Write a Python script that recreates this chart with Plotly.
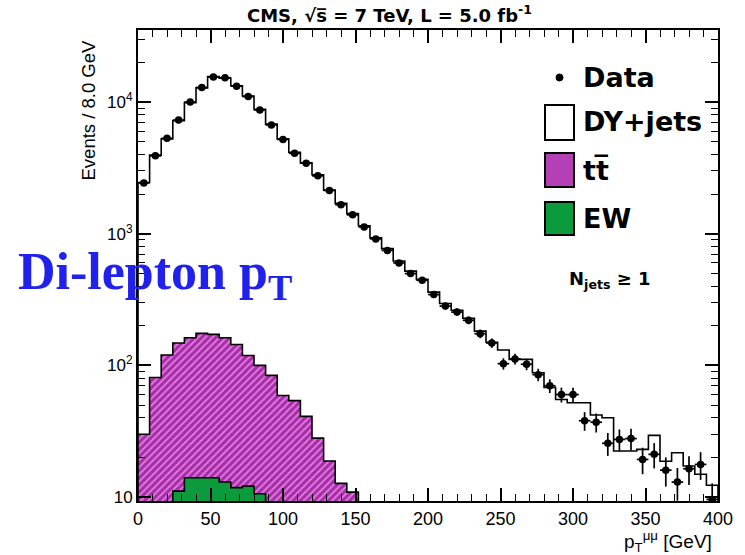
import numpy as np
import plotly.graph_objects as go

# ---------------- data ----------------
bin_width = 8
bin_lo = list(range(0, 400, 8))  # 50 bins, 0..400 GeV

data_counts = [
    2430, 3900, 5300, 7300, 10000, 12900, 15500, 15300, 13200, 11000,
    8700, 6700, 5200, 4080, 3430, 2750, 2130, 1660, 1390, 1125,
    913, 747, 600, 498, 443, 345, 282, 254, 220, 174,
    148, 103, 112, 102, 85, 70, 60, 60, 38, 37,
    25.6, 27.4, 27.8, 19.3, 21.1, 16, 13, 16.4, 17.7, 9.6,
]

# DY+jets drawn stacked on top (total MC)
mc_total = [
    2450, 3950, 5250, 7200, 9900, 12800, 15600, 15200, 13300, 11100,
    8800, 6800, 5250, 4150, 3450, 2800, 2150, 1700, 1420, 1150,
    930, 770, 620, 520, 450, 360, 295, 262, 228, 182,
    150, 131, 111, 111, 88, 68, 55, 52, 52, 42,
    40, 22.4, 22.4, 23, 29.4, 18.7, 21.7, 17.2, 14.9, 12.3,
]

# ttbar (stacked with EW) - visible bins 0..18
tt_lo = bin_lo[:19]
tt_stack = [30, 81, 120, 148, 162, 175, 172, 162, 144, 119,
            100, 84, 59, 54, 41, 28, 18.8, 12.7, 10.9]

# EW - visible bins 3..10
ew_lo = bin_lo[3:11]
ew_vals = [11.1, 14, 14, 14, 13, 11.8, 12.1, 10.6]

x_ticks = [0, 50, 100, 150, 200, 250, 300, 350, 400]
y_ticks = [10, 100, 1000, 10000]
y_ticktext = ["10", "10<sup>2</sup>", "10<sup>3</sup>", "10<sup>4</sup>"]

# ---------------- geometry / style ----------------
W, H = 745, 555
L, R, T, B = 138, 27, 30, 54
YLOG_MIN, YLOG_MAX = 0.97, 4.547
BASE = 10 ** 0.8  # below the visible range, outline bottom gets clipped

TT_BG = "#a62ea6"
TT_FG = "#e27de2"
EW_COL = "#0b9a3c"


def step_poly(lo, vals, w, base):
    xs, ys = [lo[0]], [base]
    for a, v in zip(lo, vals):
        xs += [a, a + w]
        ys += [v, v]
    xs.append(lo[-1] + w)
    ys.append(base)
    return xs, ys


fig = go.Figure()

x, y = step_poly(bin_lo, mc_total, bin_width, BASE)
fig.add_trace(go.Scatter(x=x, y=y, mode="lines", fill="toself", fillcolor="white",
                         line=dict(color="black", width=1.6), hoverinfo="skip",
                         showlegend=False))

x, y = step_poly(tt_lo, tt_stack, bin_width, BASE)
fig.add_trace(go.Scatter(x=x, y=y, mode="lines", fill="toself", fillcolor=TT_BG,
                         fillpattern=dict(shape="/", fgcolor=TT_FG, bgcolor=TT_BG,
                                          size=5, solidity=0.35, fillmode="replace"),
                         line=dict(color="black", width=1.6), hoverinfo="skip",
                         showlegend=False))

x, y = step_poly(ew_lo, ew_vals, bin_width, BASE)
fig.add_trace(go.Scatter(x=x, y=y, mode="lines", fill="toself", fillcolor=EW_COL,
                         line=dict(color="black", width=1.6), hoverinfo="skip",
                         showlegend=False))

centers = [a + bin_width / 2 for a in bin_lo]
errs = list(np.sqrt(np.array(data_counts)))
fig.add_trace(go.Scatter(
    x=centers, y=data_counts, mode="markers",
    marker=dict(color="black", size=7.5),
    error_y=dict(type="data", array=errs, color="black", thickness=1.7, width=0),
    error_x=dict(type="constant", value=bin_width / 2, color="black", thickness=1.7, width=0),
    showlegend=False, cliponaxis=True))


def px(xpix):
    return (xpix - L) / (W - L - R)


def py(ypix):
    return (H - B - ypix) / (H - T - B)


ann = []
ann.append(dict(x=px(389), y=py(14), xref="paper", yref="paper",
                text="<b>CMS, √s\u0305 = 7 TeV, L = 5.0 fb<sup>-1</sup></b>",
                showarrow=False, xanchor="center", yanchor="middle",
                font=dict(family="DejaVu Sans", size=18, color="black")))
ann.append(dict(x=px(88), y=py(38), xref="paper", yref="paper",
                text="Events / 8.0 GeV", textangle=-90, showarrow=False,
                xanchor="center", yanchor="top",
                font=dict(family="Liberation Sans", size=18.5, color="black")))
ann.append(dict(x=px(714), y=py(541), xref="paper", yref="paper",
                text="p<sub>T</sub><sup>μμ</sup> [GeV]", showarrow=False,
                xanchor="right", yanchor="middle",
                font=dict(family="Liberation Sans", size=19, color="black")))
ann.append(dict(x=px(16), y=py(275), xref="paper", yref="paper",
                text="<b>Di-lepton p<sub>T</sub></b>", showarrow=False,
                xanchor="left", yanchor="middle",
                font=dict(family="Liberation Serif", size=52, color="#2121ee")))
ann.append(dict(x=px(567), y=py(280), xref="paper", yref="paper",
                text="<b>N<sub>jets</sub> ≥ 1</b>", showarrow=False,
                xanchor="left", yanchor="middle",
                font=dict(family="DejaVu Sans", size=18, color="black")))

leg_items = [("Data", 77), ("DY+jets", 122), ("tt\u0305", 170), ("EW", 218)]
for txt, yy in leg_items:
    ann.append(dict(x=px(581), y=py(yy), xref="paper", yref="paper",
                    text="<b>" + txt + "</b>", showarrow=False,
                    xanchor="left", yanchor="middle",
                    font=dict(family="DejaVu Sans", size=27, color="black")))

shapes = [
    dict(type="circle", xref="paper", yref="paper", x0=px(556), x1=px(563),
         y0=py(81), y1=py(74), fillcolor="black", line=dict(color="black", width=1)),
    dict(type="rect", xref="paper", yref="paper", x0=px(545), x1=px(574),
         y0=py(140), y1=py(105), fillcolor="white", line=dict(color="black", width=2)),
    dict(type="rect", xref="paper", yref="paper", x0=px(545), x1=px(574),
         y0=py(187), y1=py(153), fillcolor="#b540b5", line=dict(color="black", width=2)),
    dict(type="rect", xref="paper", yref="paper", x0=px(545), x1=px(574),
         y0=py(235), y1=py(202), fillcolor=EW_COL, line=dict(color="black", width=2)),
]

minor_y = [m * 10 ** e for e in range(0, 5) for m in range(2, 10)]

fig.update_layout(
    width=W, height=H,
    margin=dict(l=L, r=R, t=T, b=B, pad=0),
    paper_bgcolor="white", plot_bgcolor="white",
    showlegend=False,
    annotations=ann, shapes=shapes,
    xaxis=dict(range=[0, 400], tickmode="array", tickvals=x_ticks,
               ticks="inside", ticklen=13, tickwidth=1.5, tickcolor="black",
               minor=dict(dtick=10, tick0=0, ticks="inside", ticklen=7, tickwidth=1.2,
                          tickcolor="black", showgrid=False),
               showline=True, linecolor="black", linewidth=2, mirror="allticks",
               showgrid=False, zeroline=False,
               tickfont=dict(family="Liberation Sans", size=18, color="black")),
    yaxis=dict(type="log", range=[YLOG_MIN, YLOG_MAX], tickmode="array",
               tickvals=y_ticks, ticktext=y_ticktext,
               ticks="inside", ticklen=13, tickwidth=1.5, tickcolor="black",
               minor=dict(tickmode="array", tickvals=minor_y, ticks="inside", ticklen=7,
                          tickwidth=1.2, tickcolor="black", showgrid=False),
               showline=True, linecolor="black", linewidth=2, mirror="allticks",
               showgrid=False, zeroline=False,
               tickfont=dict(family="Liberation Sans", size=17, color="black")),
)

fig.write_html("out.html")
